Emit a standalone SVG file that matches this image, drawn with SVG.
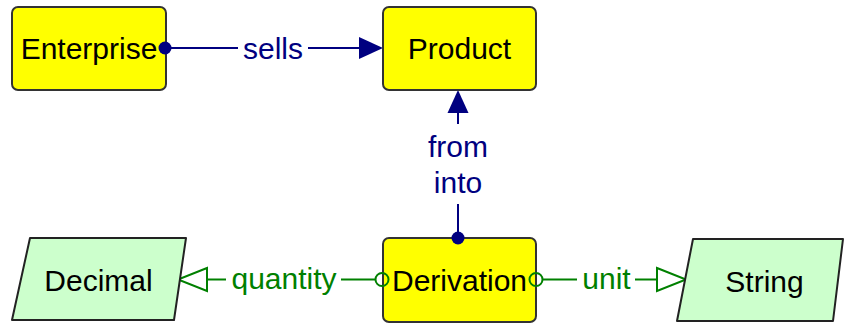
<svg xmlns="http://www.w3.org/2000/svg" width="844" height="324" viewBox="0 0 844 324">
  <style>
    .entity { fill: #ffff00; stroke: #333333; stroke-width: 2; }
    .value { fill: #ccffcc; stroke: #222222; stroke-width: 2; stroke-linejoin: round; }
    .name { font-family: "Liberation Sans", Arial, sans-serif; font-size: 30px; fill: #000000; text-anchor: middle; }
    .lbl { font-family: "Liberation Sans", Arial, sans-serif; font-size: 30px; text-anchor: middle; }
    .rel { stroke: #000080; stroke-width: 2; fill: none; }
    .attr { stroke: #008000; stroke-width: 2; fill: none; }
  </style>
  <rect width="844" height="324" fill="#ffffff"/>

  <g id="connectors">
    <!-- Enterprise sells Product -->
    <g id="sells">
      <line class="rel" x1="166" y1="48" x2="238" y2="48"/>
      <line class="rel" x1="308" y1="48" x2="360" y2="48"/>
      <polygon points="359,37 383,48 359,59" fill="#000080"/>
      <text class="lbl" x="273" y="59" fill="#000080">sells</text>
    </g>
    <!-- Derivation from / into Product -->
    <g id="from-into">
      <line class="rel" x1="458" y1="112" x2="458" y2="124"/>
      <line class="rel" x1="458" y1="204" x2="458" y2="238"/>
      <polygon points="447.5,113 458,90 468.5,113" fill="#000080"/>
      <text class="lbl" x="458" y="157" fill="#000080">from</text>
      <text class="lbl" x="458" y="193" fill="#000080">into</text>
    </g>
    <!-- Derivation quantity Decimal -->
    <g id="quantity">
      <line class="attr" x1="207" y1="279.5" x2="226" y2="279.5"/>
      <line class="attr" x1="341" y1="279.5" x2="376" y2="279.5"/>
      <polygon class="attr" points="207,268 178,279.5 207,291"/>
      <text class="lbl" x="284" y="289" fill="#008000">quantity</text>
    </g>
    <!-- Derivation unit String -->
    <g id="unit">
      <line class="attr" x1="542" y1="279.5" x2="577" y2="279.5"/>
      <line class="attr" x1="635" y1="279.5" x2="657" y2="279.5"/>
      <polygon class="attr" points="657,268 686,279.5 657,291"/>
      <text class="lbl" x="606.5" y="289" fill="#008000">unit</text>
    </g>
  </g>

  <g id="enterprise">
    <rect class="entity" x="12" y="7" width="154" height="83" rx="6"/>
    <text class="name" x="89" y="59">Enterprise</text>
  </g>
  <g id="product">
    <rect class="entity" x="383" y="7" width="153" height="83" rx="6"/>
    <text class="name" x="459.5" y="59">Product</text>
  </g>
  <g id="derivation">
    <rect class="entity" x="383" y="238" width="153" height="84" rx="6"/>
    <text class="name" x="459.5" y="291">Derivation</text>
  </g>
  <g id="decimal">
    <polygon class="value" points="30,238 186,238 174,320 12,320"/>
    <text class="name" x="98.5" y="291">Decimal</text>
  </g>
  <g id="string">
    <polygon class="value" points="693,239 843,239 833,321 677,321"/>
    <text class="name" x="764.5" y="292">String</text>
  </g>

  <!-- connector end markers sit on top of the node borders -->
  <g id="end-markers">
    <circle cx="165" cy="48" r="6.5" fill="#000080"/>
    <circle cx="458" cy="238" r="6.5" fill="#000080"/>
    <circle class="attr" cx="382" cy="279.5" r="6.5"/>
    <circle class="attr" cx="536" cy="279.5" r="6.5"/>
  </g>
</svg>
